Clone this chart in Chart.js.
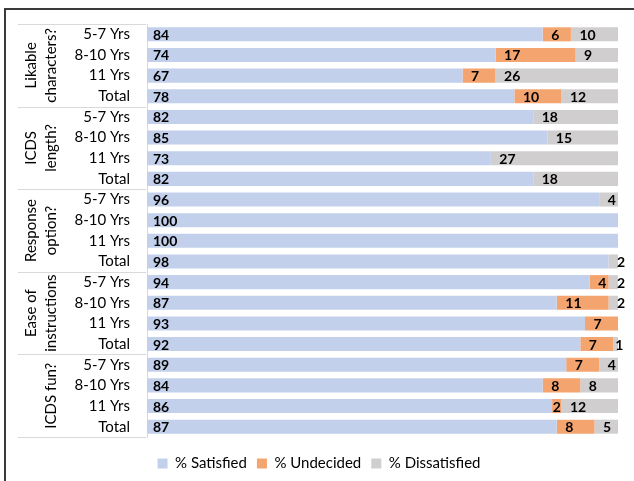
<!DOCTYPE html>
<html>
<head>
<meta charset="utf-8">
<script src="https://cdn.jsdelivr.net/npm/chart.js@4"></script>
<style>
  html, body { margin: 0; padding: 0; background: #fff; }
  #wrap { width: 634px; height: 481px; position: relative; }
</style>
</head>
<body>
<div id="wrap"><canvas id="c" width="634" height="481"></canvas></div>
<script>
const ageLabels = ["5-7 Yrs", "8-10 Yrs", "11 Yrs", "Total"];
const groups = [["Likable", "characters?"], ["ICDS", "length?"], ["Response", "option?"], ["Ease of", "instructions"], [null, "ICDS fun?"]];
const categories = [];
groups.forEach(() => ageLabels.forEach(a => categories.push(a)));

const satisfied    = [84, 74, 67, 78,  82, 85, 73, 82,  96, 100, 100, 98,  94, 87, 93, 92,  89, 84, 86, 87];
const undecided    = [ 6, 17,  7, 10,   0,  0,  0,  0,   0,   0,   0,  0,   4, 11,  7,  7,   7,  8,  2,  8];
const dissatisfied = [10,  9, 26, 12,  18, 15, 27, 18,   4,   0,   0,  2,   2,  2,  0,  1,   4,  8, 12,  5];

const FONT = "Lato, 'Open Sans', sans-serif";

const framePlugin = {
  id: 'frame',
  beforeDraw(chart) {
    const ctx = chart.ctx;
    ctx.save();
    ctx.strokeStyle = '#3a3a3a';
    ctx.lineWidth = 2;
    ctx.beginPath();
    ctx.moveTo(5, 481);
    ctx.lineTo(5, 9);
    ctx.lineTo(634, 9);
    ctx.stroke();
    ctx.restore();
  }
};

const groupPlugin = {
  id: 'groups',
  afterDraw(chart) {
    const ctx = chart.ctx;
    const y = chart.scales.y;
    const step = (y.getPixelForValue(1) - y.getPixelForValue(0));
    const boundary = i => y.getPixelForValue(i) - step / 2;
    ctx.save();
    ctx.strokeStyle = '#d9d9d9';
    ctx.lineWidth = 1;
    for (let g = 0; g <= groups.length; g++) {
      const py = Math.round(boundary(g * 4)) + 0.5;
      ctx.beginPath();
      ctx.moveTo(18, py);
      ctx.lineTo(146, py);
      ctx.stroke();
    }
    ctx.fillStyle = '#000';
    ctx.font = '15px ' + FONT;
    ctx.textAlign = 'center';
    ctx.textBaseline = 'middle';
    const xs = [31, 51];
    groups.forEach((lines, g) => {
      const cy = (boundary(g * 4) + boundary(g * 4 + 4)) / 2;
      lines.forEach((t, k) => {
        if (!t) return;
        ctx.save();
        ctx.translate(xs[k], cy);
        ctx.rotate(-Math.PI / 2);
        ctx.fillText(t, 0, 0);
        ctx.restore();
      });
    });
    ctx.restore();
  }
};

const labelPlugin = {
  id: 'barLabels',
  afterDatasetsDraw(chart) {
    const ctx = chart.ctx;
    ctx.save();
    ctx.font = 'bold 14px ' + FONT;
    ctx.fillStyle = '#000';
    ctx.textBaseline = 'middle';
    ctx.textAlign = 'left';
    chart.data.datasets.forEach((ds, di) => {
      const meta = chart.getDatasetMeta(di);
      meta.data.forEach((bar, i) => {
        const v = ds.data[i];
        if (!v) return;
        const start = Math.min(bar.base, bar.x);
        const w = Math.abs(bar.x - bar.base);
        let x;
        if (di === 0) {
          x = start + 6;
        } else {
          const hasNext = di < chart.data.datasets.length - 1 && chart.data.datasets[di + 1].data[i] > 0;
          if (w < 12 && hasNext) {
            ctx.textAlign = 'center';
            ctx.fillText(String(v), start + w / 2, bar.y + 1);
            ctx.textAlign = 'left';
            return;
          }
          x = start + (w < 6 ? 2 : 8.5);
        }
        ctx.fillText(String(v), x, bar.y + 1);
      });
    });
    ctx.restore();
  }
};

new Chart(document.getElementById('c'), {
  type: 'bar',
  data: {
    labels: categories,
    datasets: [
      { label: '% Satisfied', data: satisfied, backgroundColor: '#c3d0ec' },
      { label: '% Undecided', data: undecided, backgroundColor: '#f4a46f' },
      { label: '% Dissatisfied', data: dissatisfied, backgroundColor: '#d0cece' }
    ]
  },
  options: {
    indexAxis: 'y',
    responsive: false,
    animation: false,
    devicePixelRatio: 1,
    layout: { padding: { top: 24, right: 16, left: 20, bottom: 0 } },
    datasets: { bar: { categoryPercentage: 1, barPercentage: 0.68 } },
    scales: {
      x: {
        stacked: true, min: 0, max: 100,
        ticks: { display: false },
        grid: { display: false },
        border: { display: false },
        afterFit(scale) { scale.height = 9; }
      },
      y: {
        stacked: true,
        ticks: { color: '#000', font: { family: FONT, size: 15 }, padding: 9, autoSkip: false },
        grid: { display: false },
        border: { display: true, color: '#d9d9d9', width: 1 },
        afterFit(scale) { scale.width = 127; }
      }
    },
    plugins: {
      legend: {
        position: 'bottom',
        labels: {
          color: '#000',
          font: { family: FONT, size: 15 },
          boxWidth: 10, boxHeight: 10, padding: 10
        }
      },
      tooltip: { enabled: false }
    }
  },
  plugins: [framePlugin, groupPlugin, labelPlugin]
});
</script>
</body>
</html>
